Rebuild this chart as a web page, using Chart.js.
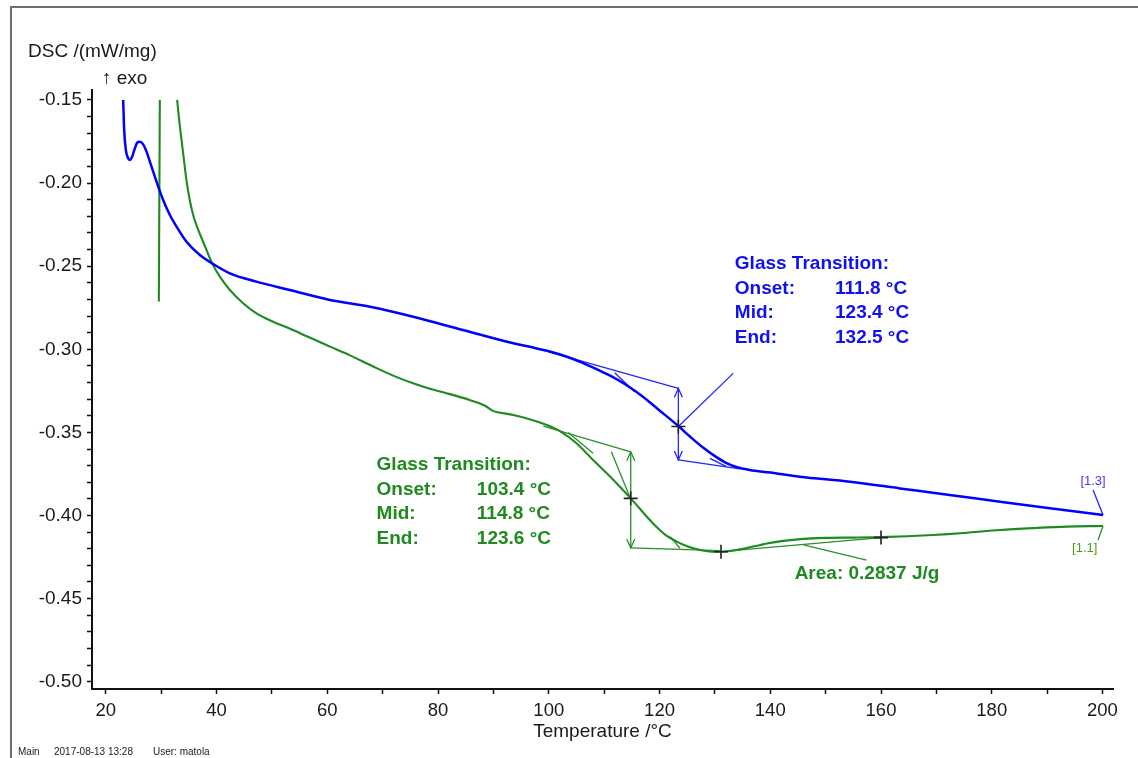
<!DOCTYPE html>
<html><head><meta charset="utf-8">
<script src="https://cdn.jsdelivr.net/npm/chart.js@4.4.0/dist/chart.umd.min.js"></script>
<style>html,body{margin:0;padding:0;background:#fff;}canvas{display:block}</style>
</head><body>
<canvas id="c" width="1138" height="758"></canvas>
<script>
// ---- series data (temperature /°C, DSC /(mW/mg)) ----
const blueT   = [23.13,23.31,23.61,24.03,24.33,24.75,25.24,25.66,26.14,26.74,27.35,27.95,28.85,29.57,30.35,31.56,32.77,34.57,36.98,39.2,42.4,47.2,53.2,60.5,67.7,75.5,84.5,93.6,97,100,103,106,109,111.5,114,117,120,123.4,125.5,127.8,130,132.1,134,136.3,140,145.3,154.4,163.4,172.4,181.5,190.5,200.1];
const blueDSC = [-0.150,-0.168,-0.180,-0.1851,-0.1861,-0.1841,-0.1791,-0.1757,-0.1751,-0.1767,-0.1811,-0.1871,-0.1961,-0.2031,-0.2102,-0.2192,-0.2262,-0.2353,-0.2433,-0.2483,-0.2543,-0.2593,-0.2643,-0.2703,-0.2744,-0.2804,-0.2884,-0.2964,-0.2988,-0.3012,-0.3042,-0.3080,-0.3125,-0.3166,-0.3215,-0.3285,-0.3368,-0.3462,-0.3525,-0.3590,-0.3643,-0.3685,-0.3710,-0.3726,-0.3742,-0.3767,-0.3797,-0.3837,-0.3877,-0.3917,-0.3957,-0.3997];

const greenT   = [29.57,29.75,null,32.88,33.24,33.67,34.14,34.57,35.17,35.8,36.38,37.57,39.2,40.59,42.4,44.8,47.2,50.2,53.2,56.5,60.5,64,68.3,72,75.5,78.5,81.5,85.7,88.5,90,91,93.6,97,100,102,105,108,111.5,114.8,118.8,121,123.1,125,127.3,129,131.1,133.5,136.9,140,144.1,150.1,155,160,169.4,175,181.5,188,193.5,200.1];
const greenDSC = [-0.2713,-0.150,null,-0.150,-0.162,-0.1741,-0.1870,-0.1985,-0.2105,-0.2195,-0.2255,-0.2353,-0.2483,-0.2563,-0.2643,-0.2723,-0.2784,-0.2834,-0.2875,-0.2925,-0.2984,-0.3035,-0.3104,-0.3160,-0.3205,-0.3238,-0.3264,-0.3305,-0.3340,-0.3372,-0.3380,-0.3395,-0.3425,-0.3460,-0.3492,-0.3565,-0.3666,-0.3780,-0.3897,-0.4047,-0.4115,-0.4157,-0.4185,-0.4208,-0.4216,-0.4218,-0.4210,-0.4187,-0.4165,-0.4147,-0.4135,-0.4133,-0.4130,-0.4117,-0.4105,-0.4087,-0.4075,-0.4067,-0.4063];

// ---- evaluation construction lines (pairs of endpoints) ----
const blueLineT = [[100,123.4],[111.9,115.5],[123.4,123.4],[123.4,134.5],[129.1,132.1],[123.4,133.3],[200.1,198.3]];
const blueLineV = [[-0.3015,-0.3235],[-0.3141,-0.3255],[-0.3235,-0.3666],[-0.3666,-0.3720],[-0.3656,-0.3706],[-0.3465,-0.3145],[-0.3997,-0.3847]];
const greenLineT = [[99,114.8],[103.5,108],[111.3,114.6],[114.8,114.8],[114.8,130.9],[121.9,123.7],[131.1,160],[146,157.4],[200.1,199.2]];
const greenLineV = [[-0.3463,-0.3617],[-0.3501,-0.3625],[-0.3617,-0.3886],[-0.3617,-0.4195],[-0.4195,-0.4211],[-0.4127,-0.4197],[-0.4218,-0.4133],[-0.4177,-0.4268],[-0.4063,-0.4147]];
const blueArrowIdx = [2];
const greenArrowIdx = [3];

// ---- characteristic points ----
const blueMarkT = [123.4];
const blueMarkV = [-0.3465];
const greenMarkT = [114.8,131.1,160];
const greenMarkV = [-0.3897,-0.4218,-0.4133];

// ---- texts ----
const blueLabels = ["Glass Transition:","Onset:","Mid:","End:"];
const blueValues = ["","111.8 °C","123.4 °C","132.5 °C"];
const greenLabels = ["Glass Transition:","Onset:","Mid:","End:"];
const greenValues = ["","103.4 °C","114.8 °C","123.6 °C"];
const blueAnchor = [133.6,-0.2487,151.7];   // label x, first line y, value x
const greenAnchor = [68.9,-0.3696,87.0];
const areaText = "Area: 0.2837 J/g";
const areaAnchor = [144.4,-0.4352];
const blueTag = "[1.3]", blueTagAt = [198.3,-0.3798];
const greenTag = "[1.1]", greenTagAt = [196.8,-0.4196];

const xTickValues = [20,40,60,80,100,120,140,160,180,200];
const yTickValues = [-0.15,-0.20,-0.25,-0.30,-0.35,-0.40,-0.45,-0.50];

const BLUE = '#1010f0', GREEN = '#1f8a1f', FONT = '"Liberation Sans", Arial, sans-serif';

function pts(T, V){ return T.map((t,i)=>({x:t, y:V[i]})); }
function segDatasets(LT, LV, color){
  return LT.map((t,i)=>({data:pts(t,LV[i]), borderColor:color, borderWidth:1.3, showLine:true, pointRadius:0, tension:0, order:3}));
}

const datasets = [
  {data:pts(blueT,blueDSC), borderColor:'#0000ff', borderWidth:2.5, showLine:true, pointRadius:0, cubicInterpolationMode:'monotone', spanGaps:false, order:1},
  {data:pts(greenT,greenDSC), borderColor:GREEN, borderWidth:2.1, showLine:true, pointRadius:0, cubicInterpolationMode:'monotone', spanGaps:false, order:2},
  ...segDatasets(blueLineT, blueLineV, '#2424ff'),
  ...segDatasets(greenLineT, greenLineV, '#2a8f2a'),
  {data:pts(blueMarkT,blueMarkV), showLine:false, pointStyle:'cross', pointRadius:7, pointBorderWidth:1.6, pointBorderColor:'#222', order:0},
  {data:pts(greenMarkT,greenMarkV), showLine:false, pointStyle:'cross', pointRadius:7, pointBorderWidth:1.6, pointBorderColor:'#222', order:0}
];

const decor = {
  id:'decor',
  beforeDraw(chart){
    const c = chart.ctx;
    c.save();
    c.fillStyle='#fff'; c.fillRect(0,0,chart.width,chart.height);
    c.strokeStyle='#6e6e6e'; c.lineWidth=2;
    c.beginPath(); c.moveTo(11,chart.height); c.lineTo(11,7); c.lineTo(chart.width,7); c.stroke();
    c.restore();
  },
  afterDraw(chart){
    const c = chart.ctx, xs = chart.scales.x, ys = chart.scales.y, ca = chart.chartArea;
    c.save();
    // arrow heads on vertical step arrows
    const heads = (LT, LV, idx, color) => {
      idx.forEach(i=>{
        const px = xs.getPixelForValue(LT[i][0]);
        const pTop = ys.getPixelForValue(LV[i][0]);
        const pBot = ys.getPixelForValue(LV[i][1]);
        c.strokeStyle=color; c.lineWidth=1.3;
        c.beginPath();
        c.moveTo(px-4,pTop+9); c.lineTo(px,pTop); c.lineTo(px+4,pTop+9);
        c.moveTo(px-4,pBot-9); c.lineTo(px,pBot); c.lineTo(px+4,pBot-9);
        c.stroke();
      });
    };
    heads(blueLineT, blueLineV, blueArrowIdx, '#2424ff');
    heads(greenLineT, greenLineV, greenArrowIdx, '#2a8f2a');

    // text blocks
    c.textBaseline='middle'; c.textAlign='left';
    const block = (labels, values, anchor, color) => {
      c.font = 'bold 19px '+FONT; c.fillStyle=color;
      const x0 = xs.getPixelForValue(anchor[0]), x1 = xs.getPixelForValue(anchor[2]);
      const y0 = ys.getPixelForValue(anchor[1]);
      labels.forEach((t,i)=>{ c.fillText(t,x0,y0+i*24.5); if(values[i]) c.fillText(values[i],x1,y0+i*24.5); });
    };
    block(blueLabels, blueValues, blueAnchor, BLUE);
    block(greenLabels, greenValues, greenAnchor, GREEN);
    c.font='bold 19px '+FONT; c.fillStyle=GREEN;
    c.fillText(areaText, xs.getPixelForValue(areaAnchor[0]), ys.getPixelForValue(areaAnchor[1]));
    c.font='13px '+FONT; c.textAlign='center';
    c.fillStyle='#3a3aff';
    c.fillText(blueTag, xs.getPixelForValue(blueTagAt[0]), ys.getPixelForValue(blueTagAt[1]));
    c.fillStyle='#4f9a1e';
    c.fillText(greenTag, xs.getPixelForValue(greenTagAt[0]), ys.getPixelForValue(greenTagAt[1]));

    // axis caption
    c.textAlign='left'; c.fillStyle='#1a1a1a';
    c.font='19px '+FONT;
    c.fillText('DSC /(mW/mg)', ca.left-64, ca.top-38);
    c.fillText('\u2191 exo', ca.left+10, ca.top-11);
    // footer
    c.font='10px '+FONT; c.fillStyle='#222';
    c.fillText('Main', 18, chart.height-6);
    c.fillText('2017-08-13 13:28', 54, chart.height-6);
    c.fillText('User: matola', 153, chart.height-6);
    c.restore();
  }
};

new Chart(document.getElementById('c'), {
  type:'scatter',
  data:{datasets},
  plugins:[decor],
  options:{
    responsive:false, animation:false,
    layout:{padding:{top:90,right:25,left:0,bottom:0}},
    plugins:{legend:{display:false}, tooltip:{enabled:false}},
    scales:{
      x:{type:'linear', min:17.5, max:201.9, position:'bottom',
        afterFit(s){ s.height = 69; },
        border:{color:'#111', width:2},
        grid:{drawOnChartArea:false, tickLength:5, color:'#111', tickWidth:1.5},
        ticks:{stepSize:10, includeBounds:false, autoSkip:false, maxRotation:0, padding:6, color:'#1a1a1a',
          font:{size:18.5, family:FONT},
          callback:v => xTickValues.includes(Math.round(v)) && Math.abs(v-Math.round(v))<1e-6 ? String(Math.round(v)) : ''},
        title:{display:true, text:'Temperature /°C', color:'#1a1a1a', font:{size:19, family:FONT}, padding:{top:0,bottom:15}}
      },
      y:{type:'linear', min:-0.5044, max:-0.144,
        afterFit(s){ s.width = 92; },
        border:{color:'#111', width:2},
        grid:{drawOnChartArea:false, tickLength:5, color:'#111', tickWidth:1.5},
        ticks:{stepSize:0.01, includeBounds:false, autoSkip:false, padding:5, color:'#1a1a1a',
          font:{size:19, family:FONT},
          callback:v => { const r = Math.round(v*100)/100; return yTickValues.some(t=>Math.abs(t-r)<1e-9) ? r.toFixed(2) : ''; }}
      }
    }
  }
});
</script>
</body></html>
